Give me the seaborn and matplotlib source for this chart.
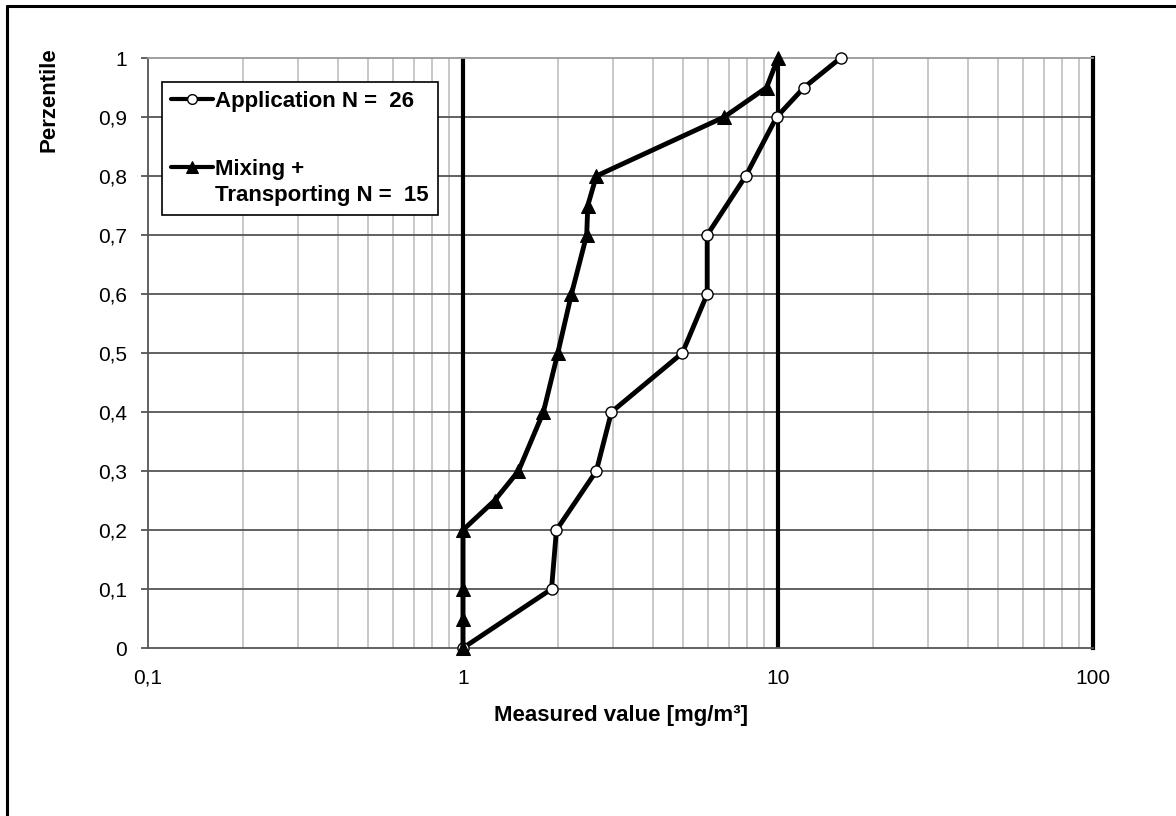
import numpy as np
import pandas as pd
import matplotlib
matplotlib.use("Agg")
import matplotlib.pyplot as plt
from matplotlib.ticker import FixedLocator, FixedFormatter, NullFormatter
from matplotlib.lines import Line2D
import seaborn as sns

# ---- data ----
app_x = [1.0, 1.91, 1.98, 2.65, 2.96, 4.97, 5.96, 5.96, 7.9, 9.9, 12.1, 15.8]
app_y = [0.0, 0.1, 0.2, 0.3, 0.4, 0.5, 0.6, 0.7, 0.8, 0.9, 0.95, 1.0]
mix_x = [1.0, 1.0, 1.0, 1.0, 1.26, 1.5, 1.8, 2.0, 2.21, 2.47, 2.49, 2.65, 6.75, 9.2, 10.0]
mix_y = [0.0, 0.05, 0.1, 0.2, 0.25, 0.3, 0.4, 0.5, 0.6, 0.7, 0.75, 0.8, 0.9, 0.95, 1.0]
app_label = "Application N =  26"
mix_label = "Mixing +\nTransporting N =  15"
y_ticks = [0, 0.1, 0.2, 0.3, 0.4, 0.5, 0.6, 0.7, 0.8, 0.9, 1.0]
y_tick_labels = ["0", "0,1", "0,2", "0,3", "0,4", "0,5", "0,6", "0,7", "0,8", "0,9", "1"]
x_ticks = [0.1, 1, 10, 100]
x_tick_labels = ["0,1", "1", "10", "100"]

sns.set_style("white")
plt.rcParams['font.family'] = ['Liberation Sans', 'DejaVu Sans']
plt.rcParams['text.color'] = 'black'
plt.rcParams['axes.labelcolor'] = 'black'
plt.rcParams['xtick.color'] = 'black'
plt.rcParams['ytick.color'] = 'black'

W, H = 1176, 816
fig = plt.figure(figsize=(W / 100, H / 100), dpi=100)
L, R, T, B = 148, 1093, 58, 648
ax = fig.add_axes([L / W, 1 - B / H, (R - L) / W, (B - T) / H])

ax.set_xscale("log")
ax.set_xlim(0.1, 100)
ax.set_ylim(0, 1)

# grid
minor = [m * d for d in (0.1, 1, 10) for m in range(2, 10)]
for v in minor:
    ax.axvline(v, color="#c4c4c4", lw=1.3, zorder=0)
for v in y_ticks[1:-1]:
    ax.axhline(v, color="#555555", lw=1.3, zorder=0.5)
for v in (1, 10):
    ax.axvline(v, color="black", lw=3, zorder=1)

df_app = pd.DataFrame({"x": app_x, "y": app_y})
df_mix = pd.DataFrame({"x": mix_x, "y": mix_y})

sns.lineplot(data=df_app, x="x", y="y", sort=False, estimator=None, ax=ax,
             color="black", lw=3.5, marker="o", markersize=8,
             markerfacecolor="white", markeredgecolor="black", markeredgewidth=1.0,
             label=app_label, zorder=3, clip_on=False)
sns.lineplot(data=df_mix, x="x", y="y", sort=False, estimator=None, ax=ax,
             color="black", lw=3.5, marker="^", markersize=10,
             markerfacecolor="black", markeredgecolor="black",
             label=mix_label, zorder=4, clip_on=False)

# spines
for s in ("left", "bottom"):
    ax.spines[s].set_color("#555555")
    ax.spines[s].set_linewidth(1.3)
ax.spines["top"].set_color("#999999")
ax.spines["top"].set_linewidth(1.3)
ax.spines["right"].set_color("black")
ax.spines["right"].set_linewidth(3)

ax.xaxis.set_major_locator(FixedLocator(x_ticks))
ax.xaxis.set_major_formatter(FixedFormatter(x_tick_labels))
ax.xaxis.set_minor_formatter(NullFormatter())
ax.tick_params(axis="x", which="both", length=0, pad=15, labelsize=15)
ax.yaxis.set_major_locator(FixedLocator(y_ticks))
ax.yaxis.set_major_formatter(FixedFormatter(y_tick_labels))
ax.tick_params(axis="y", which="major", length=5, width=1.3, color="#555555",
               pad=10, labelsize=15, left=True)

ax.set_xlabel("Measured value [mg/m³]", fontsize=16, fontweight="bold", labelpad=12)
ax.set_ylabel("Perzentile", fontsize=16, fontweight="bold")
ax.yaxis.set_label_coords((59 - L) / (R - L), (B - 100) / (B - T))

leg = ax.legend(loc="upper left", bbox_to_anchor=((162 - L) / (R - L), (B - 82) / (B - T)),
                frameon=True, fancybox=False, edgecolor="black", framealpha=1,
                prop={"weight": "bold", "size": 16}, handlelength=1.9,
                handletextpad=0.1, labelspacing=2.1, borderpad=0.4, borderaxespad=0)
leg.get_frame().set_linewidth(1.2)
leg.get_texts()[1].set_linespacing(1.35)
for h in leg.legend_handles:
    h.set_linewidth(3)
    if h.get_marker() == "o":
        h.set_markersize(7)
    else:
        h.set_markersize(9)
        # align the handle with the first text line
        h.set_ydata(np.asarray(h.get_ydata()) + 11.5)

# figure frame (left and top)
fig.add_artist(Line2D([7 / W, 7 / W], [0, 1 - 6 / H], color="black", lw=2.2))
fig.add_artist(Line2D([7 / W, 1], [1 - 6 / H, 1 - 6 / H], color="black", lw=2.2))

fig.savefig("out.png", dpi=100)
